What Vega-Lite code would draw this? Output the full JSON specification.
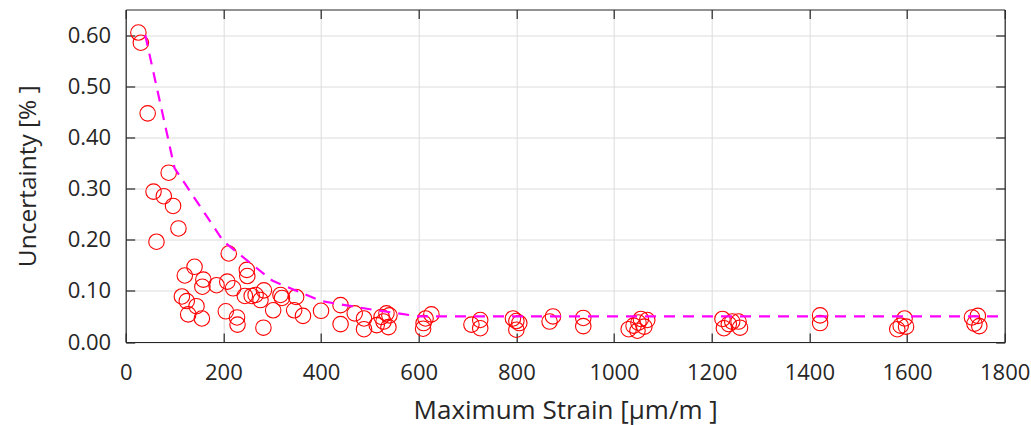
{
  "$schema": "https://vega.github.io/schema/vega-lite/v6.json",
  "width": 879,
  "height": 332.5,
  "autosize": {"type": "none"},
  "padding": {"left": 125.7, "top": 9.5, "right": 26.3, "bottom": 83},
  "background": "white",
  "config": {
    "view": {"stroke": null},
    "axis": {
      "domainColor": "#262626",
      "domainWidth": 1.2,
      "tickColor": "#262626",
      "tickWidth": 1.2,
      "tickSize": -9,
      "labelFlush": false,
      "labelFont": "Open Sans",
      "labelFontSize": 22,
      "labelColor": "#262626",
      "titleFont": "Open Sans",
      "titleFontWeight": "normal",
      "titleColor": "#262626",
      "gridColor": "#dcdcdc",
      "gridWidth": 1
    }
  },
  "datasets": {
    "measurements": [
      {"strain": 26, "uncertainty": 0.605},
      {"strain": 31, "uncertainty": 0.585},
      {"strain": 45, "uncertainty": 0.447},
      {"strain": 57, "uncertainty": 0.294},
      {"strain": 63, "uncertainty": 0.196},
      {"strain": 78, "uncertainty": 0.285},
      {"strain": 88, "uncertainty": 0.331},
      {"strain": 97, "uncertainty": 0.266},
      {"strain": 108, "uncertainty": 0.222},
      {"strain": 115, "uncertainty": 0.089},
      {"strain": 121, "uncertainty": 0.130},
      {"strain": 125, "uncertainty": 0.080},
      {"strain": 128, "uncertainty": 0.054},
      {"strain": 141, "uncertainty": 0.147},
      {"strain": 145, "uncertainty": 0.070},
      {"strain": 156, "uncertainty": 0.046},
      {"strain": 157, "uncertainty": 0.108},
      {"strain": 159, "uncertainty": 0.122},
      {"strain": 186, "uncertainty": 0.111},
      {"strain": 205, "uncertainty": 0.060},
      {"strain": 208, "uncertainty": 0.118},
      {"strain": 211, "uncertainty": 0.173},
      {"strain": 220, "uncertainty": 0.105},
      {"strain": 228, "uncertainty": 0.048},
      {"strain": 229, "uncertainty": 0.034},
      {"strain": 244, "uncertainty": 0.090},
      {"strain": 248, "uncertainty": 0.141},
      {"strain": 249, "uncertainty": 0.129},
      {"strain": 258, "uncertainty": 0.090},
      {"strain": 266, "uncertainty": 0.092},
      {"strain": 276, "uncertainty": 0.082},
      {"strain": 283, "uncertainty": 0.101},
      {"strain": 282, "uncertainty": 0.028},
      {"strain": 302, "uncertainty": 0.062},
      {"strain": 317, "uncertainty": 0.092},
      {"strain": 320, "uncertainty": 0.086},
      {"strain": 345, "uncertainty": 0.062},
      {"strain": 349, "uncertainty": 0.088},
      {"strain": 363, "uncertainty": 0.051},
      {"strain": 400, "uncertainty": 0.061},
      {"strain": 440, "uncertainty": 0.072},
      {"strain": 440, "uncertainty": 0.035},
      {"strain": 469, "uncertainty": 0.056},
      {"strain": 488, "uncertainty": 0.046},
      {"strain": 488, "uncertainty": 0.025},
      {"strain": 514, "uncertainty": 0.033},
      {"strain": 524, "uncertainty": 0.049},
      {"strain": 528, "uncertainty": 0.040},
      {"strain": 534, "uncertainty": 0.056},
      {"strain": 538, "uncertainty": 0.029},
      {"strain": 540, "uncertainty": 0.052},
      {"strain": 609, "uncertainty": 0.026},
      {"strain": 610, "uncertainty": 0.037},
      {"strain": 614, "uncertainty": 0.046},
      {"strain": 626, "uncertainty": 0.054},
      {"strain": 708, "uncertainty": 0.034},
      {"strain": 726, "uncertainty": 0.043},
      {"strain": 726, "uncertainty": 0.027},
      {"strain": 793, "uncertainty": 0.046},
      {"strain": 800, "uncertainty": 0.041},
      {"strain": 806, "uncertainty": 0.037},
      {"strain": 800, "uncertainty": 0.024},
      {"strain": 868, "uncertainty": 0.040},
      {"strain": 875, "uncertainty": 0.050},
      {"strain": 937, "uncertainty": 0.047},
      {"strain": 937, "uncertainty": 0.031},
      {"strain": 1030, "uncertainty": 0.025},
      {"strain": 1040, "uncertainty": 0.032},
      {"strain": 1048, "uncertainty": 0.022},
      {"strain": 1050, "uncertainty": 0.038},
      {"strain": 1055, "uncertainty": 0.045},
      {"strain": 1062, "uncertainty": 0.030},
      {"strain": 1068, "uncertainty": 0.043},
      {"strain": 1222, "uncertainty": 0.045},
      {"strain": 1225, "uncertainty": 0.027},
      {"strain": 1235, "uncertainty": 0.035},
      {"strain": 1242, "uncertainty": 0.040},
      {"strain": 1255, "uncertainty": 0.040},
      {"strain": 1258, "uncertainty": 0.028},
      {"strain": 1422, "uncertainty": 0.052},
      {"strain": 1422, "uncertainty": 0.037},
      {"strain": 1580, "uncertainty": 0.025},
      {"strain": 1587, "uncertainty": 0.032},
      {"strain": 1595, "uncertainty": 0.046},
      {"strain": 1598, "uncertainty": 0.030},
      {"strain": 1733, "uncertainty": 0.048},
      {"strain": 1745, "uncertainty": 0.051},
      {"strain": 1738, "uncertainty": 0.036},
      {"strain": 1748, "uncertainty": 0.031}
    ],
    "envelope": [
      {"strain": 40, "uncertainty": 0.600},
      {"strain": 100, "uncertainty": 0.340},
      {"strain": 200, "uncertainty": 0.197},
      {"strain": 300, "uncertainty": 0.120},
      {"strain": 400, "uncertainty": 0.080},
      {"strain": 500, "uncertainty": 0.064},
      {"strain": 600, "uncertainty": 0.050},
      {"strain": 1800, "uncertainty": 0.050}
    ]
  },
  "layer": [
    {
      "data": {"name": "measurements"},
      "mark": {"type": "point", "shape": "circle", "filled": false, "color": "#ff0000", "size": 240, "strokeWidth": 1.1, "opacity": 1},
      "encoding": {
        "x": {
          "field": "strain", "type": "quantitative",
          "scale": {"domain": [0, 1800], "nice": false, "zero": false},
          "axis": {
            "orient": "bottom",
            "values": [0, 200, 400, 600, 800, 1000, 1200, 1400, 1600, 1800],
            "format": "d",
            "grid": true,
            "labelPadding": 29,
            "title": "Maximum Strain [μm/m ]",
            "titleFontSize": 26,
            "titlePadding": 14
          }
        },
        "y": {
          "field": "uncertainty", "type": "quantitative",
          "scale": {"domain": [0, 0.65], "nice": false, "zero": false},
          "axis": {
            "orient": "left",
            "values": [0, 0.1, 0.2, 0.3, 0.4, 0.5, 0.6],
            "format": ".2f",
            "grid": true,
            "labelPadding": 24,
            "title": "Uncertainty [% ]",
            "titleFontSize": 24.5,
            "titlePadding": 27
          }
        }
      }
    },
    {
      "data": {"name": "envelope"},
      "mark": {"type": "line", "color": "#ff00ff", "strokeWidth": 2.2, "strokeDash": [11, 8]},
      "encoding": {
        "x": {
          "field": "strain", "type": "quantitative",
          "axis": {
            "orient": "top",
            "values": [0, 200, 400, 600, 800, 1000, 1200, 1400, 1600, 1800],
            "labels": false,
            "grid": false,
            "title": null
          }
        },
        "y": {
          "field": "uncertainty", "type": "quantitative",
          "axis": {
            "orient": "right",
            "values": [0, 0.1, 0.2, 0.3, 0.4, 0.5, 0.6],
            "labels": false,
            "grid": false,
            "title": null
          }
        }
      }
    }
  ],
  "resolve": {"axis": {"x": "independent", "y": "independent"}}
}
